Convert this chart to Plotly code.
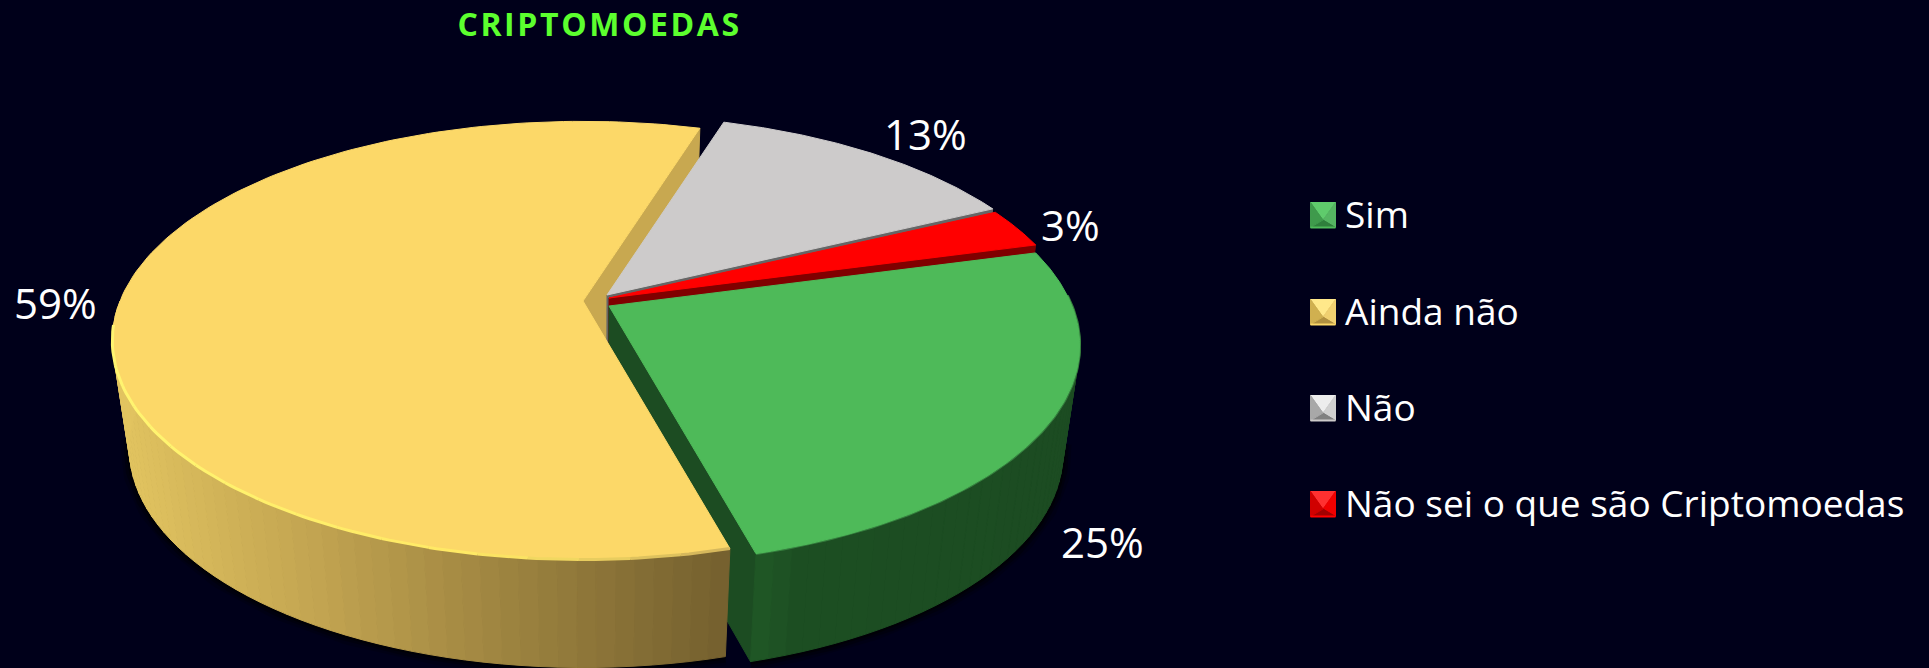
import numpy as np
import plotly.graph_objects as go

# ---- data ----
categories = ["Sim", "Ainda não", "Não", "Não sei o que são Criptomoedas"]
values = [25, 59, 13, 3]
title_text = "CRIPTOMOEDAS"

# ---- style ----
BG = "#00001a"
top_colors = ["#4EBA59", "#FCD868", "#CDCBCB", "#FF0000"]
inner_colors = ["#1C4C22", "#C8A850", "#666666", "#800000"]
slice_centres = [(609, 306), (583, 301), (607, 295), (609, 298)]
label_pos = [(1102, 541), (55, 302), (925, 133), (1070, 224)]
legend_y = [215, 312, 408, 504]
legend_shades = [
    ("#2F7F3C", "#5FCB6C", "#3F9A4C", "#55B562", "#4EBA59"),
    ("#B09040", "#FFE88A", "#D0B050", "#F0D070", "#FCD868"),
    ("#808080", "#EDEDED", "#A8A8A8", "#D0D0D0", "#CDCBCB"),
    ("#A00000", "#FF3030", "#D00000", "#F00000", "#FF0000"),
]
F, G, K = 463.0, 212.0, 0.18      # perspective of the pie's top plane
DEPTH, BASE_S, VPX = 108.0, 0.965, 600.0   # extrusion
START_DEG = -15.2


def top_xy(c, th):
    u, v = np.cos(th), np.sin(th)
    w = 1 - K * v
    return c[0] + F * u / w, c[1] + G * v / w


def base_of(x, y):
    return VPX + (x - VPX) * BASE_S, y + DEPTH


def lerp_hex(stops, x):
    xs = [s[0] for s in stops]
    rgb = [np.interp(x, xs, [s[1][i] for s in stops]) for i in range(3)]
    return "rgb(%d,%d,%d)" % tuple(int(round(c)) for c in rgb)


def poly(fig, x, y, color):
    fig.add_trace(go.Scatter(
        x=list(x) + [x[0]], y=list(y) + [y[0]], mode="lines", fill="toself",
        fillcolor=color, line=dict(color=color, width=1),
        hoverinfo="skip", showlegend=False))


def curve(fig, x, y, color, width, opacity=1.0):
    fig.add_trace(go.Scatter(
        x=x, y=y, mode="lines", line=dict(color=color, width=width),
        opacity=opacity, hoverinfo="skip", showlegend=False))


# slice angles derived from the values
total = sum(values)
edges = np.radians(START_DEG + np.cumsum([0] + values) / total * 360.0)
spans = [(edges[i], edges[i + 1]) for i in range(len(values))]
IDX_SIM, IDX_AINDA, IDX_NAO, IDX_NS = 0, 1, 2, 3

yellow_stops = [(113, (226, 196, 96)), (300, (196, 166, 82)), (500, (158, 132, 64)), (729, (116, 96, 46))]
green_stops = [(740, (34, 92, 40)), (800, (28, 78, 34)), (1070, (28, 76, 34))]


def sector(c, a, b, n=160):
    th = np.linspace(a, b, n)
    x, y = top_xy(c, th)
    return np.r_[c[0], x], np.r_[c[1], y]


def inner_wall(fig, c, th, color):
    ex, ey = top_xy(c, th)
    bx0, by0 = base_of(c[0], c[1])
    bx1, by1 = base_of(ex, ey)
    poly(fig, [c[0], ex, bx1, bx0], [c[1], ey, by1, by0], color)


def outer_wall(fig, c, a, b, stops, step=np.radians(2.0)):
    lo, hi = max(a, 0.0), min(b, np.pi)
    n = max(2, int((hi - lo) / step) + 1)
    ths = np.linspace(lo, hi, n + 1)
    for t0, t1 in zip(ths[:-1], ths[1:]):
        tt = np.linspace(t0, t1, 5)
        x, y = top_xy(c, tt)
        bx, by = base_of(x, y)
        poly(fig, np.r_[x, bx[::-1]], np.r_[y, by[::-1]], lerp_hex(stops, x.mean()))


fig = go.Figure()

# soft shadow under the pie
for idx, a0, b0 in [(IDX_AINDA, spans[IDX_AINDA][0], np.radians(172)), (IDX_SIM, np.radians(8), spans[IDX_SIM][1])]:
    tt = np.linspace(a0, b0, 160)
    x, y = top_xy(slice_centres[idx], tt)
    bx, by = base_of(x, y)
    for w, op in [(18, 0.18), (12, 0.3), (6, 0.5)]:
        curve(fig, bx, by, "#000000", w, op)

# back slices first
inner_wall(fig, slice_centres[IDX_AINDA], spans[IDX_AINDA][1], inner_colors[IDX_AINDA])
inner_wall(fig, slice_centres[IDX_NAO], spans[IDX_NAO][1], inner_colors[IDX_NAO])
sx, sy = sector(slice_centres[IDX_NAO], *spans[IDX_NAO])
poly(fig, sx, sy, top_colors[IDX_NAO])
inner_wall(fig, slice_centres[IDX_NS], spans[IDX_NS][1], inner_colors[IDX_NS])
sx, sy = sector(slice_centres[IDX_NS], *spans[IDX_NS])
poly(fig, sx, sy, top_colors[IDX_NS])

# front walls
inner_wall(fig, slice_centres[IDX_SIM], spans[IDX_SIM][1], inner_colors[IDX_SIM])
outer_wall(fig, slice_centres[IDX_SIM], spans[IDX_SIM][0], spans[IDX_SIM][1], green_stops)
outer_wall(fig, slice_centres[IDX_AINDA], spans[IDX_AINDA][0], spans[IDX_AINDA][1], yellow_stops)

# yellow top and rim highlight
sx, sy = sector(slice_centres[IDX_AINDA], *spans[IDX_AINDA])
poly(fig, sx, sy, top_colors[IDX_AINDA])
rim = np.linspace(spans[IDX_AINDA][0], np.radians(178), 120)
rx, ry = top_xy(slice_centres[IDX_AINDA], rim)
for i in range(0, len(rim) - 6, 6):
    seg = slice(i, i + 7)
    frac = np.clip((rx[seg].mean() - 150) / 550, 0, 1)
    col = lerp_hex([(0, (255, 244, 112)), (0.6, (255, 232, 100)), (1, (214, 184, 92))], frac)
    curve(fig, rx[seg], ry[seg], col, 3)

# green top with a soft rim
sim_c = slice_centres[IDX_SIM]
sx, sy = sector(sim_c, *spans[IDX_SIM])
rim = np.linspace(max(spans[IDX_SIM][0], -0.05), spans[IDX_SIM][1], 100)
rx, ry = top_xy(sim_c, rim)
curve(fig, rx, ry, "#357F3E", 3)
poly(fig, sx, sy, top_colors[IDX_SIM])

# legend swatches (bevelled squares), built from the categories
H = 12.5
LX = 1323
for yc, shades in zip(legend_y, legend_shades):
    low, high, left, right, mid = shades
    o = [(LX - H, yc - H), (LX + H, yc - H), (LX + H, yc + H), (LX - H, yc + H)]
    ax, ay = LX, yc + 5
    faces = [(0, 1, high), (1, 2, right), (2, 3, low), (3, 0, left)]
    for a, b, col in faces:
        poly(fig, [o[a][0], o[b][0], ax], [o[a][1], o[b][1], ay], col)
    curve(fig, [LX - H, LX + H], [yc + H, yc + H], mid, 2)

annotations = []
for v, (lx, ly) in zip(values, label_pos):
    annotations.append(dict(x=lx, y=ly, text=f"{v}%", showarrow=False, xanchor="center", yanchor="middle",
                            font=dict(family="Open Sans", size=42, color="#FFFFFF")))
for cat, yc in zip(categories, legend_y):
    annotations.append(dict(x=1343, y=yc - 2, text=cat, showarrow=False, xanchor="left", yanchor="middle",
                            font=dict(family="Open Sans", size=37, color="#FFFFFF")))
annotations.append(dict(x=599, y=23, text=f"<b>{title_text}</b>", showarrow=False, xanchor="center", yanchor="middle",
                        font=dict(family="Open Sans", size=32, color="#5CFF2E")))

fig.update_layout(
    width=1929, height=668, margin=dict(l=0, r=0, t=0, b=0),
    paper_bgcolor=BG, plot_bgcolor=BG, showlegend=False, annotations=annotations,
    xaxis=dict(range=[0, 1929], visible=False, fixedrange=True),
    yaxis=dict(range=[668, 0], visible=False, fixedrange=True),
)
post = """
document.body.style.margin='0';
document.body.style.overflow='hidden';
document.body.style.background='%s';
document.querySelectorAll('.annotation-text').forEach(function(t){
  if(t.textContent==='%s'){t.style.letterSpacing='2.6px';}
});
""" % (BG, title_text)
fig.write_html("out.html", config={"displayModeBar": False}, post_script=post)
